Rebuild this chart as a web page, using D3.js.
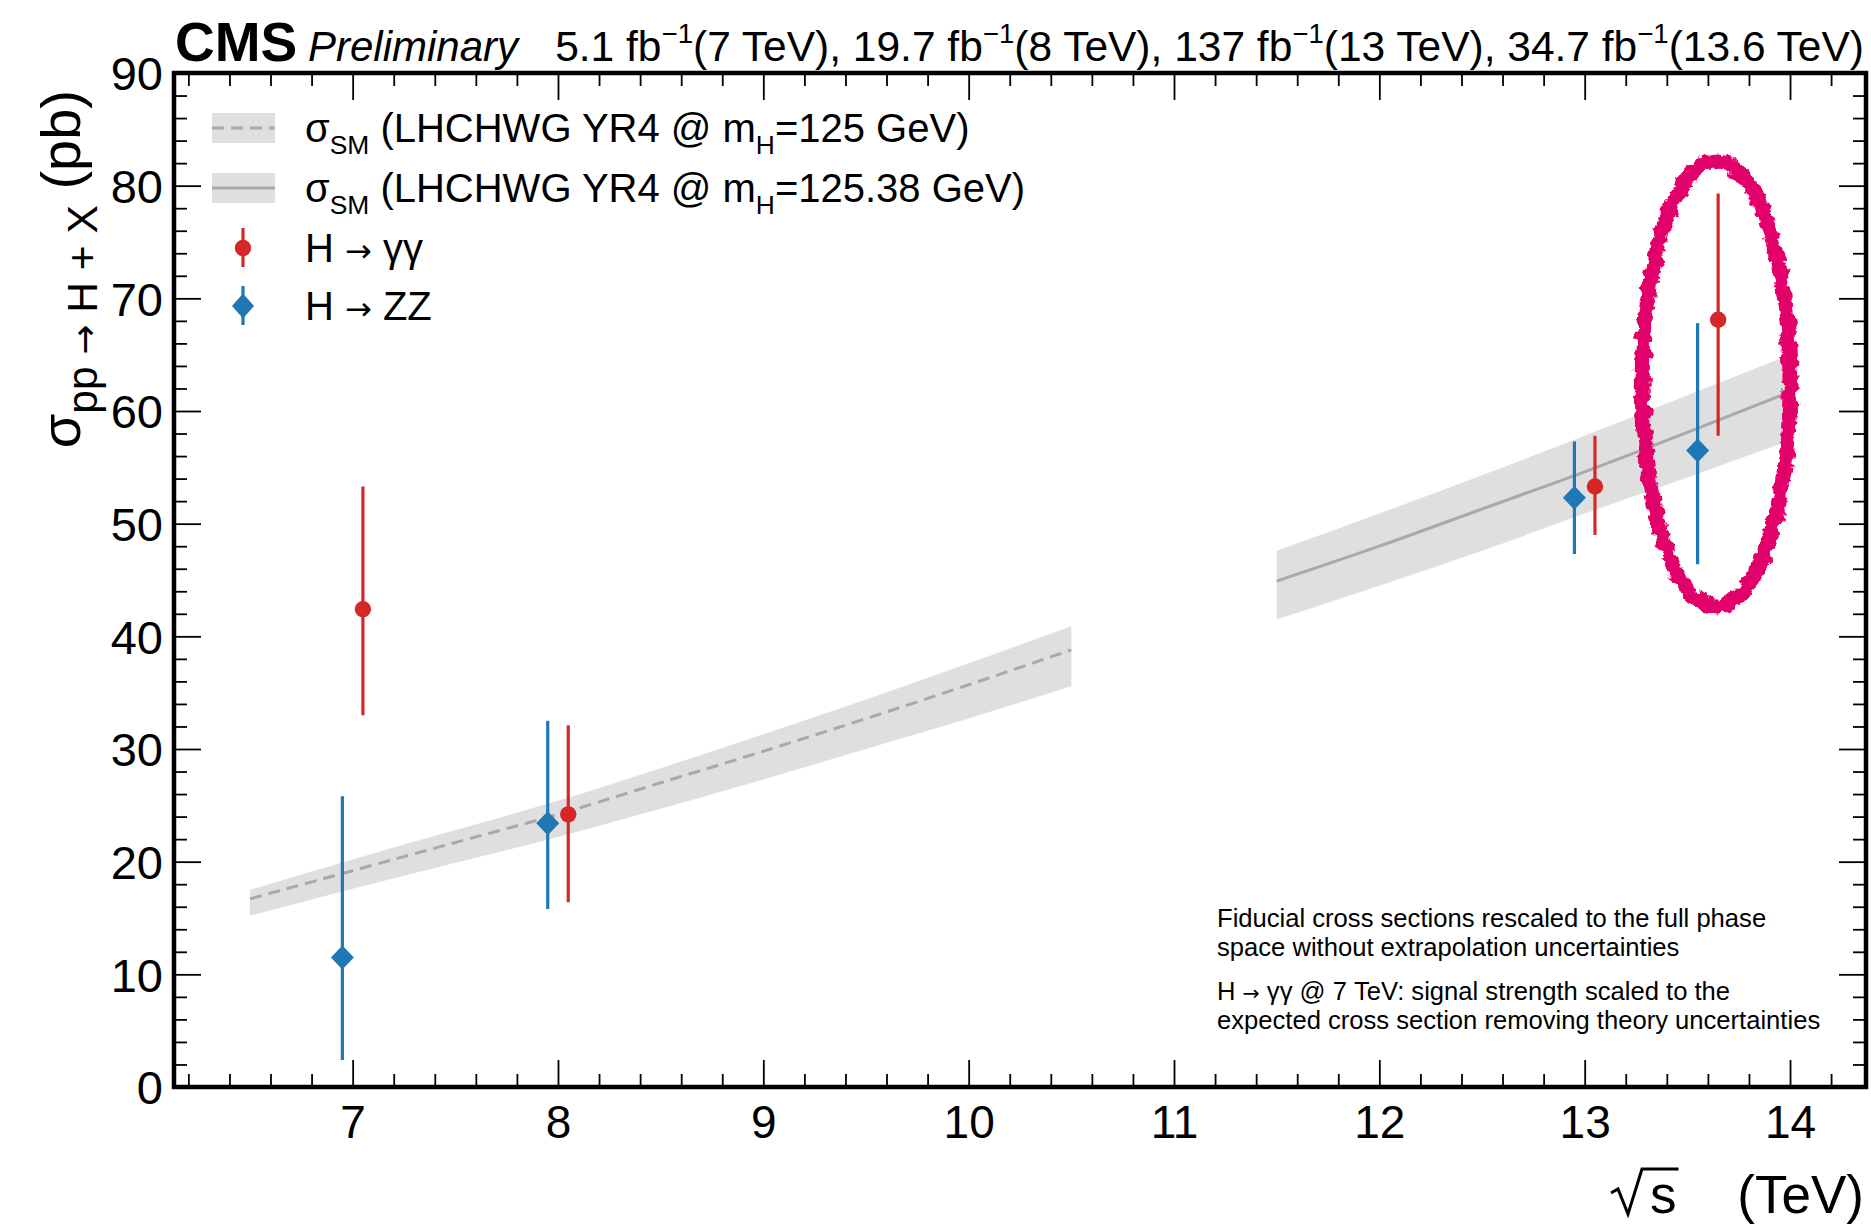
<!DOCTYPE html>
<html>
<head>
<meta charset="utf-8">
<script src="https://cdn.jsdelivr.net/npm/d3@7"></script>
<style>
  html, body { margin: 0; padding: 0; background: #fff; }
  svg { display: block; font-family: "Liberation Sans", Arial, Helvetica, sans-serif; }
</style>
</head>
<body>
<div id="chart"></div>
<script>
// values
const xTicks = [7, 8, 9, 10, 11, 12, 13, 14];
const yTicks = [0, 10, 20, 30, 40, 50, 60, 70, 80, 90];

const energies = [7, 8, 13, 13.6];
const ggCentral = [42.4, 24.2, 53.3, 68.1];
const ggLow = [33.0, 16.4, 49.0, 57.8];
const ggHigh = [53.3, 32.1, 57.8, 79.3];
const zzCentral = [11.5, 23.4, 52.3, 56.5];
const zzLow = [2.4, 15.8, 47.3, 46.4];
const zzHigh = [25.8, 32.5, 57.3, 67.8];

const sm125X = [6.5, 7, 7.5, 8, 8.5, 9, 9.5, 10, 10.5];
const sm125 = [16.7, 19.2, 21.7, 24.2, 27.0, 29.8, 32.7, 35.7, 38.8];
const sm125Up = [17.5, 20.2, 22.8, 25.4, 28.3, 31.3, 34.4, 37.6, 40.9];
const sm125Down = [15.2, 17.6, 19.9, 22.2, 24.7, 27.3, 30.0, 32.7, 35.6];

const sm12538X = [11.5, 12, 12.5, 13, 13.5, 14];
const sm12538 = [44.9, 48.0, 51.3, 54.6, 58.1, 61.7];
const sm12538Up = [47.6, 50.9, 54.3, 57.8, 61.4, 65.0];
const sm12538Down = [41.5, 44.5, 47.6, 50.9, 54.1, 57.4];

// hand-drawn highlight round the 13.6 TeV points
const highlight = { x: 13.64, y: 62.4, rx: 0.36, ry: 19.8 };

const ARROW = "\u2192";
const notes = [
  [{ t: "Fiducial cross sections rescaled to the full phase" }],
  [{ t: "space without extrapolation uncertainties" }],
  [{ t: "H " }, { t: ARROW, arrow: true }, { t: " \u03b3\u03b3 @ 7 TeV: signal strength scaled to the" }],
  [{ t: "expected cross section removing theory uncertainties" }]
];

const RED = "#d62728", BLUE = "#1f77b4", BAND = "#dfdfdf", LINE = "#a9a9a9";

const W = 1871, H = 1225;
const frame = { left: 174, right: 1866, top: 73, bottom: 1087 };

const svg = d3.select("#chart").append("svg")
    .attr("width", W)
    .attr("height", H);

const x = d3.scaleLinear().domain([6.13, 14.37]).range([frame.left, frame.right]);
const y = d3.scaleLinear().domain([0, 90]).range([frame.bottom, frame.top]);

// writes text made of normal / sub / sup pieces
function rich(textSel, parts, fs) {
  let shift = 0;
  parts.forEach(p => {
    const target = p.sub ? 0.3 * fs : p.sup ? -0.42 * fs : 0;
    let size = (p.sub || p.sup) ? fs * (p.scale || 0.7) : fs;
    const ts = textSel.append("tspan")
        .attr("dy", target - shift)
        .text(p.t);
    if (p.arrow) {
      ts.attr("font-family", "DejaVu Sans");
      size = size * 0.8;
    }
    ts.attr("font-size", size);
    shift = target;
  });
}

// SM bands
function band(xs, mid, up, down, dashed) {
  const pts = xs.map((d, i) => ({ x: d, m: mid[i], u: up[i], l: down[i] }));
  svg.append("path")
      .datum(pts)
      .attr("fill", BAND)
      .attr("d", d3.area().x(d => x(d.x)).y0(d => y(d.l)).y1(d => y(d.u)).curve(d3.curveMonotoneX));
  svg.append("path")
      .datum(pts)
      .attr("fill", "none")
      .attr("stroke", LINE)
      .attr("stroke-width", 3)
      .attr("stroke-dasharray", dashed ? "12,7" : null)
      .attr("d", d3.line().x(d => x(d.x)).y(d => y(d.m)).curve(d3.curveMonotoneX));
}
band(sm125X, sm125, sm125Up, sm125Down, true);
band(sm12538X, sm12538, sm12538Up, sm12538Down, false);

// axes: ticks pointing inward on all four sides
function ticks(axis, at, values, size, labels) {
  const g = svg.append("g")
      .attr("transform", at)
      .call(axis.tickValues(values).tickSize(size).tickFormat(labels ? d3.format("d") : ""));
  g.select(".domain").remove();
  g.selectAll("line").attr("stroke", "#000").attr("stroke-width", 1.8);
  return g;
}
const xMinor = x.ticks(40).filter(d => Math.abs(d - Math.round(d)) > 1e-6);
const yMinor = y.ticks(45).filter(d => d % 10 !== 0);

const xLab = ticks(d3.axisBottom(x).tickPadding(18), `translate(0,${frame.bottom})`, xTicks, -27, true);
ticks(d3.axisBottom(x), `translate(0,${frame.bottom})`, xMinor, -13, false);
ticks(d3.axisTop(x), `translate(0,${frame.top})`, xTicks, -27, false);
ticks(d3.axisTop(x), `translate(0,${frame.top})`, xMinor, -13, false);
const yLab = ticks(d3.axisLeft(y).tickPadding(11), `translate(${frame.left},0)`, yTicks, -27, true);
ticks(d3.axisLeft(y), `translate(${frame.left},0)`, yMinor, -13, false);
ticks(d3.axisRight(y), `translate(${frame.right},0)`, yTicks, -27, false);
ticks(d3.axisRight(y), `translate(${frame.right},0)`, yMinor, -13, false);

xLab.selectAll("text").attr("font-size", 46).attr("fill", "#000").attr("font-family", "Liberation Sans");
yLab.selectAll("text").attr("font-size", 47).attr("fill", "#000").attr("font-family", "Liberation Sans")
    .attr("dy", "0.36em");

// measurements
const off = 0.05;
function points(central, low, high, dx, color, diamond) {
  const pts = energies.map((e, i) => ({ e: e + dx, c: central[i], lo: low[i], hi: high[i] }));
  const g = svg.append("g");
  g.selectAll("line").data(pts).enter().append("line")
      .attr("x1", d => x(d.e)).attr("x2", d => x(d.e))
      .attr("y1", d => y(d.lo)).attr("y2", d => y(d.hi))
      .attr("stroke", color).attr("stroke-width", 3.2);
  if (diamond) {
    g.selectAll("path").data(pts).enter().append("path")
        .attr("transform", d => `translate(${x(d.e)},${y(d.c)})`)
        .attr("d", "M0,-12L11.5,0L0,12L-11.5,0Z")
        .attr("fill", color);
  } else {
    g.selectAll("circle").data(pts).enter().append("circle")
        .attr("cx", d => x(d.e)).attr("cy", d => y(d.c))
        .attr("r", 8.2).attr("fill", color);
  }
}
points(zzCentral, zzLow, zzHigh, -off, BLUE, true);
points(ggCentral, ggLow, ggHigh, off, RED, false);

// rough marker ellipse
const defs = svg.append("defs");
const f = defs.append("filter").attr("id", "rough")
    .attr("x", "-20%").attr("y", "-20%").attr("width", "140%").attr("height", "140%");
f.append("feTurbulence").attr("type", "fractalNoise").attr("baseFrequency", 0.12)
    .attr("numOctaves", 3).attr("seed", 5).attr("result", "noise");
f.append("feDisplacementMap").attr("in", "SourceGraphic").attr("in2", "noise")
    .attr("scale", 10).attr("xChannelSelector", "R").attr("yChannelSelector", "G");

const ell = {
  cx: x(highlight.x),
  cy: y(highlight.y),
  rx: x(highlight.x + highlight.rx) - x(highlight.x),
  ry: y(highlight.y) - y(highlight.y + highlight.ry)
};
svg.append("ellipse")
    .attr("cx", ell.cx).attr("cy", ell.cy).attr("rx", ell.rx).attr("ry", ell.ry)
    .attr("fill", "none")
    .attr("stroke", "#e2006b")
    .attr("stroke-width", 15)
    .attr("filter", "url(#rough)");

// frame
svg.append("rect")
    .attr("x", frame.left).attr("y", frame.top)
    .attr("width", frame.right - frame.left).attr("height", frame.bottom - frame.top)
    .attr("fill", "none").attr("stroke", "#000").attr("stroke-width", 4.5);

// legend
const lgX = 212, lgText = 305, lgRows = [128, 188, 248, 306], lgFs = 40;
[true, false].forEach((dashed, i) => {
  svg.append("rect").attr("x", lgX).attr("y", lgRows[i] - 15)
      .attr("width", 63).attr("height", 30).attr("fill", BAND);
  svg.append("line").attr("x1", lgX).attr("x2", lgX + 63)
      .attr("y1", lgRows[i]).attr("y2", lgRows[i])
      .attr("stroke", LINE).attr("stroke-width", 3)
      .attr("stroke-dasharray", dashed ? "12,7" : null);
});
const mx = 243;
svg.append("line").attr("x1", mx).attr("x2", mx).attr("y1", lgRows[2] - 20).attr("y2", lgRows[2] + 19)
    .attr("stroke", RED).attr("stroke-width", 3.2);
svg.append("circle").attr("cx", mx).attr("cy", lgRows[2]).attr("r", 8.2).attr("fill", RED);
svg.append("line").attr("x1", mx).attr("x2", mx).attr("y1", lgRows[3] - 20).attr("y2", lgRows[3] + 19)
    .attr("stroke", BLUE).attr("stroke-width", 3.2);
svg.append("path").attr("transform", `translate(${mx},${lgRows[3]})`)
    .attr("d", "M0,-12.5L11,0L0,12.5L-11,0Z").attr("fill", BLUE);

const legendTexts = [
  [{ t: "\u03c3" }, { t: "SM", sub: true, scale: 0.66 }, { t: " (LHCHWG YR4 @ m" }, { t: "H", sub: true, scale: 0.66 }, { t: "=125 GeV)" }],
  [{ t: "\u03c3" }, { t: "SM", sub: true, scale: 0.66 }, { t: " (LHCHWG YR4 @ m" }, { t: "H", sub: true, scale: 0.66 }, { t: "=125.38 GeV)" }],
  [{ t: "H " }, { t: ARROW, arrow: true }, { t: " \u03b3\u03b3" }],
  [{ t: "H " }, { t: ARROW, arrow: true }, { t: " ZZ" }]
];
legendTexts.forEach((parts, i) => {
  const t = svg.append("text").attr("x", lgText).attr("y", lgRows[i] + 14).attr("fill", "#000");
  rich(t, parts, lgFs);
});

// notes in the lower right
const noteY = [927, 956, 1000, 1029];
notes.forEach((parts, i) => {
  const t = svg.append("text").attr("x", 1217).attr("y", noteY[i]).attr("fill", "#000");
  rich(t, parts, 25.6);
});

// header
svg.append("text").attr("x", 175).attr("y", 61)
    .attr("font-size", 55).attr("font-weight", "bold").text("CMS");
svg.append("text").attr("x", 308).attr("y", 61)
    .attr("font-size", 42).attr("font-style", "italic").text("Preliminary");
const lumi = svg.append("text").attr("x", 1864).attr("y", 61).attr("text-anchor", "end");
rich(lumi, [
  { t: "5.1 fb" }, { t: "\u22121", sup: true, scale: 0.65 }, { t: "(7 TeV), 19.7 fb" }, { t: "\u22121", sup: true, scale: 0.65 },
  { t: "(8 TeV), 137 fb" }, { t: "\u22121", sup: true, scale: 0.65 }, { t: "(13 TeV), 34.7 fb" }, { t: "\u22121", sup: true, scale: 0.65 },
  { t: "(13.6 TeV)" }
], 42.5);

// y title
const yTitle = svg.append("text")
    .attr("transform", "translate(80,90) rotate(-90)")
    .attr("text-anchor", "end");
rich(yTitle, [
  { t: "\u03c3" }, { t: "pp ", sub: true, scale: 0.76 }, { t: ARROW, sub: true, scale: 0.8, arrow: true },
  { t: " H + X", sub: true, scale: 0.76 }, { t: " (pb)" }
], 56);

// x title: radical drawn as a path over the s, then the unit
const xtY = 1213, xtFs = 53;
svg.append("text").attr("x", 1864).attr("y", xtY).attr("text-anchor", "end")
    .attr("font-size", xtFs).text("(TeV)");
const sText = svg.append("text").attr("x", 1650).attr("y", xtY)
    .attr("font-size", xtFs).text("s");
const sEnd = 1650 + sText.node().getComputedTextLength();
svg.append("path")
    .attr("d", `M1611,${xtY - 20}L1618,${xtY - 24}L1628,${xtY + 1}L1642,${xtY - 44}L${sEnd + 2},${xtY - 44}`)
    .attr("fill", "none").attr("stroke", "#000").attr("stroke-width", 3)
    .attr("stroke-linejoin", "miter");
</script>
</body>
</html>
